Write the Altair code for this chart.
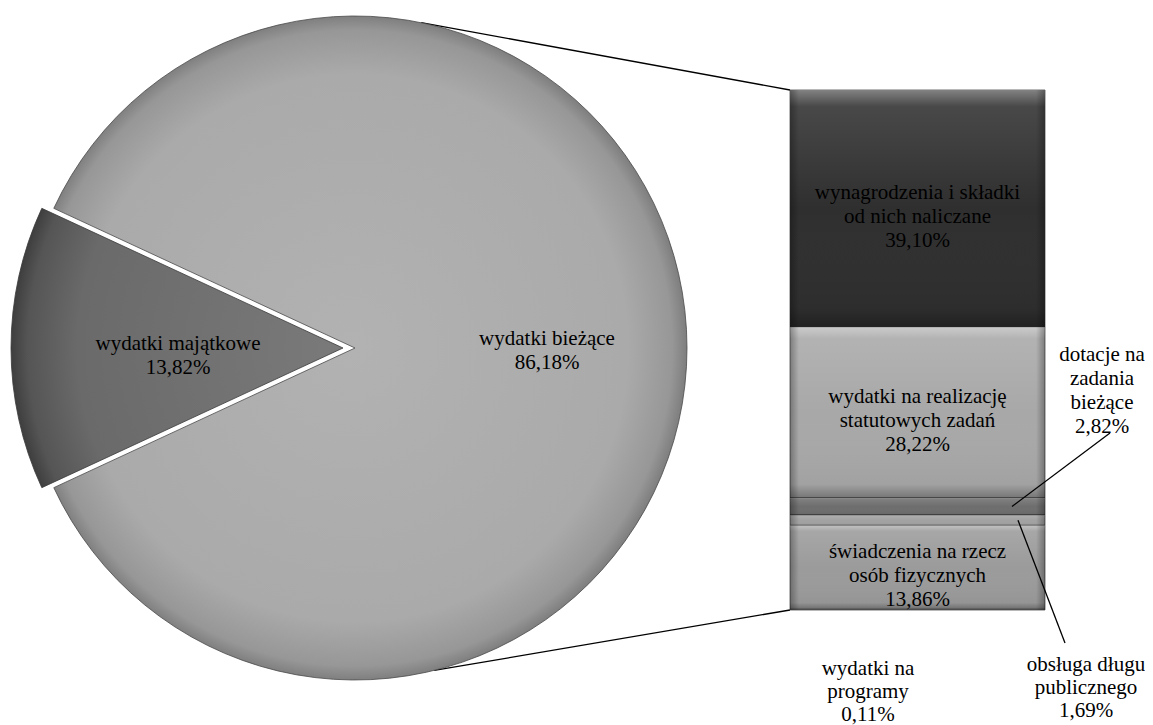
import math
import altair as alt
import pandas as pd

# ---------------- data ----------------
pie_names = ["wydatki majątkowe", "wydatki bieżące"]
pie_values = [13.82, 86.18]

bar_names = [
    "wynagrodzenia i składki\nod nich naliczane",
    "wydatki na realizację\nstatutowych zadań",
    "dotacje na\nzadania\nbieżące",
    "obsługa długu\npublicznego",
    "świadczenia na rzecz\nosób fizycznych",
    "wydatki na\nprogramy",
]
bar_values = [39.10, 28.22, 2.82, 1.69, 13.86, 0.11]

# ---------------- styles ----------------
bar_colors = ["#2f2f2f", "#a8a8a8", "#6e6e6e", "#a2a2a2", "#9b9b9b", "#8a8a8a"]


def pct(v):
    return f"{v:.2f}".replace(".", ",") + "%"


# ---------------- layout ----------------
W, H = 1137, 717
CX, CY, R = 347, 340, 332
EXPLODE = 12
BAR_X0, BAR_X1 = 782, 1037
BAR_Y0, BAR_Y1 = 82, 602
FONT = "Liberation Serif, Times New Roman, DejaVu Serif, serif"
FS = 21
LH = 24

pie_df = pd.DataFrame({"name": pie_names, "value": pie_values, "order": list(range(len(pie_names)))})
pie_df["label"] = [f"{n}\n{pct(v)}" for n, v in zip(pie_names, pie_values)]

bar_df = pd.DataFrame({"name": bar_names, "value": bar_values, "order": list(range(len(bar_names)))})
bar_df["label"] = [f"{n}\n{pct(v)}" for n, v in zip(bar_names, bar_values)]

pie_total = sum(pie_values)
bar_total = sum(bar_values)

# first (exploded) slice centred on the west direction
a0 = 1.5 * math.pi - math.pi * pie_values[0] / pie_total
theta_scale = alt.Scale(domain=[0, pie_total], range=[a0, a0 + 2 * math.pi])
y_scale = alt.Scale(domain=[0, bar_total], range=[BAR_Y0, BAR_Y1], nice=False, zero=False)

pie_base = (
    alt.Chart(pie_df)
    .transform_window(cum="sum(value)", sort=[alt.SortField("order")])
    .transform_calculate(start="datum.cum - datum.value", mid="datum.cum - datum.value / 2")
)

light_grad = {
    "gradient": "radial",
    "x1": 0.4756, "y1": 0.5, "r1": 0,
    "x2": 0.4756, "y2": 0.5, "r2": 0.515,
    "stops": [
        {"offset": 0.0, "color": "#b2b2b2"},
        {"offset": 0.80, "color": "#aaaaaa"},
        {"offset": 0.93, "color": "#979797"},
        {"offset": 1.0, "color": "#6e6e6e"},
    ],
}
dark_grad = {
    "gradient": "radial",
    "x1": 1.0, "y1": 0.5, "r1": 0,
    "x2": 1.0, "y2": 0.5, "r2": 1.0,
    "stops": [
        {"offset": 0.0, "color": "#7a7a7a"},
        {"offset": 0.80, "color": "#6a6a6a"},
        {"offset": 0.95, "color": "#555555"},
        {"offset": 1.0, "color": "#3e3e3e"},
    ],
}

dark_slice = pie_base.transform_filter(alt.datum.order == 0).mark_arc(
    radius=R, fill=dark_grad, stroke="#3a3a3a", strokeWidth=0.8
).encode(
    theta=alt.Theta("start:Q", stack=None, scale=theta_scale),
    theta2="cum:Q",
    x=alt.value(CX - EXPLODE),
    y=alt.value(CY),
)

light_slice = pie_base.transform_filter(alt.datum.order == 1).mark_arc(
    radius=R, fill=light_grad, stroke="#4a4a4a", strokeWidth=0.8
).encode(
    theta=alt.Theta("start:Q", stack=None, scale=theta_scale),
    theta2="cum:Q",
    x=alt.value(CX),
    y=alt.value(CY),
)

text_props = dict(font=FONT, fontSize=FS, lineHeight=LH, lineBreak="\n",
                  align="center", baseline="middle", color="black")

# multi-line labels: y is the centre of the first line
dark_text = pie_base.transform_filter(alt.datum.order == 0).mark_text(dy=-4, **text_props).encode(
    theta=alt.Theta("mid:Q", stack=None, scale=theta_scale),
    radius=alt.value(165),
    x=alt.value(CX - EXPLODE),
    y=alt.value(CY),
    text="label:N",
)
light_text = pie_base.transform_filter(alt.datum.order == 1).mark_text(dy=-9, **text_props).encode(
    theta=alt.Theta("mid:Q", stack=None, scale=theta_scale),
    radius=alt.value(192),
    x=alt.value(CX),
    y=alt.value(CY),
    text="label:N",
)

# ---------------- bar ----------------
bar_base = (
    alt.Chart(bar_df)
    .transform_window(cum="sum(value)", sort=[alt.SortField("order")])
    .transform_calculate(start="datum.cum - datum.value", mid="datum.cum - datum.value / 2")
)

bars = bar_base.mark_rect(stroke="#333333", strokeWidth=0.7).encode(
    x=alt.value(BAR_X0),
    x2=alt.value(BAR_X1),
    y=alt.Y("start:Q", scale=y_scale, axis=None),
    y2="cum:Q",
    color=alt.Color("name:N", scale=alt.Scale(domain=bar_names, range=bar_colors), legend=None),
)

v_grad = {
    "gradient": "linear", "x1": 0, "y1": 0, "x2": 0, "y2": 1,
    "stops": [
        {"offset": 0.0, "color": "rgba(255,255,255,0.40)"},
        {"offset": 0.07, "color": "rgba(255,255,255,0.12)"},
        {"offset": 0.5, "color": "rgba(255,255,255,0)"},
        {"offset": 0.92, "color": "rgba(0,0,0,0.04)"},
        {"offset": 1.0, "color": "rgba(0,0,0,0.30)"},
    ],
}
h_grad = {
    "gradient": "linear", "x1": 0, "y1": 0, "x2": 1, "y2": 0,
    "stops": [
        {"offset": 0.0, "color": "rgba(0,0,0,0.30)"},
        {"offset": 0.035, "color": "rgba(0,0,0,0)"},
        {"offset": 0.965, "color": "rgba(0,0,0,0)"},
        {"offset": 1.0, "color": "rgba(0,0,0,0.30)"},
    ],
}
bar_shade_v = bar_base.mark_rect(fill=v_grad).encode(
    x=alt.value(BAR_X0), x2=alt.value(BAR_X1),
    y=alt.Y("start:Q", scale=y_scale, axis=None), y2="cum:Q",
)
bar_shade_h = bar_base.mark_rect(fill=h_grad).encode(
    x=alt.value(BAR_X0), x2=alt.value(BAR_X1),
    y=alt.Y("start:Q", scale=y_scale, axis=None), y2="cum:Q",
)

inside_text = bar_base.transform_filter(alt.datum.value >= 10).mark_text(dy=-15, **text_props).encode(
    x=alt.value((BAR_X0 + BAR_X1) / 2),
    y=alt.Y("mid:Q", scale=y_scale, axis=None),
    text="label:N",
)

# first-line centre of the labels placed outside the bar, and their line height
outside_pos = {
    bar_names[2]: (1094, 347, 24),
    bar_names[3]: (1078, 657, 23),
    bar_names[5]: (860, 661, 23),
}
outside_layers = []
for nm, (px, py, lh) in outside_pos.items():
    props = dict(text_props)
    props["lineHeight"] = lh
    outside_layers.append(
        alt.Chart(bar_df).transform_filter(alt.datum.name == nm).mark_text(**props).encode(
            x=alt.value(px), y=alt.value(py), text="label:N"
        )
    )

leader_spec = {
    bar_names[2]: (1004, 1102, 425),
    bar_names[3]: (1010, 1057, 635),
}
leaders = []
for nm, (bx, lx, ly) in leader_spec.items():
    leaders.append(
        bar_base.transform_filter(alt.datum.name == nm).mark_rule(color="black", strokeWidth=1.3).encode(
            x=alt.value(bx), x2=alt.value(lx),
            y=alt.Y("mid:Q", scale=y_scale, axis=None), y2=alt.value(ly),
        )
    )

# ---------------- connectors pie -> bar ----------------
a_top = math.radians(-78.5)
a_bot = math.radians(76.2)
one = pd.DataFrame({"k": [0]})
conn_top = alt.Chart(one).mark_rule(color="black", strokeWidth=1.3).encode(
    x=alt.value(CX + R * math.cos(a_top)), y=alt.value(CY + R * math.sin(a_top)),
    x2=alt.value(BAR_X0), y2=alt.value(BAR_Y0),
)
conn_bot = alt.Chart(one).mark_rule(color="black", strokeWidth=1.3).encode(
    x=alt.value(CX + R * math.cos(a_bot)), y=alt.value(CY + R * math.sin(a_bot)),
    x2=alt.value(BAR_X0), y2=alt.value(BAR_Y1),
)

chart = alt.layer(
    conn_top, conn_bot,
    light_slice, dark_slice, light_text, dark_text,
    bars, bar_shade_v, bar_shade_h, inside_text,
    *leaders, *outside_layers,
).properties(
    width=W, height=H, padding=0, autosize=alt.AutoSizeParams(type="none"), background="white"
).configure_view(stroke=None)

chart.save("out.html", embed_options={"renderer": "svg", "actions": False})
